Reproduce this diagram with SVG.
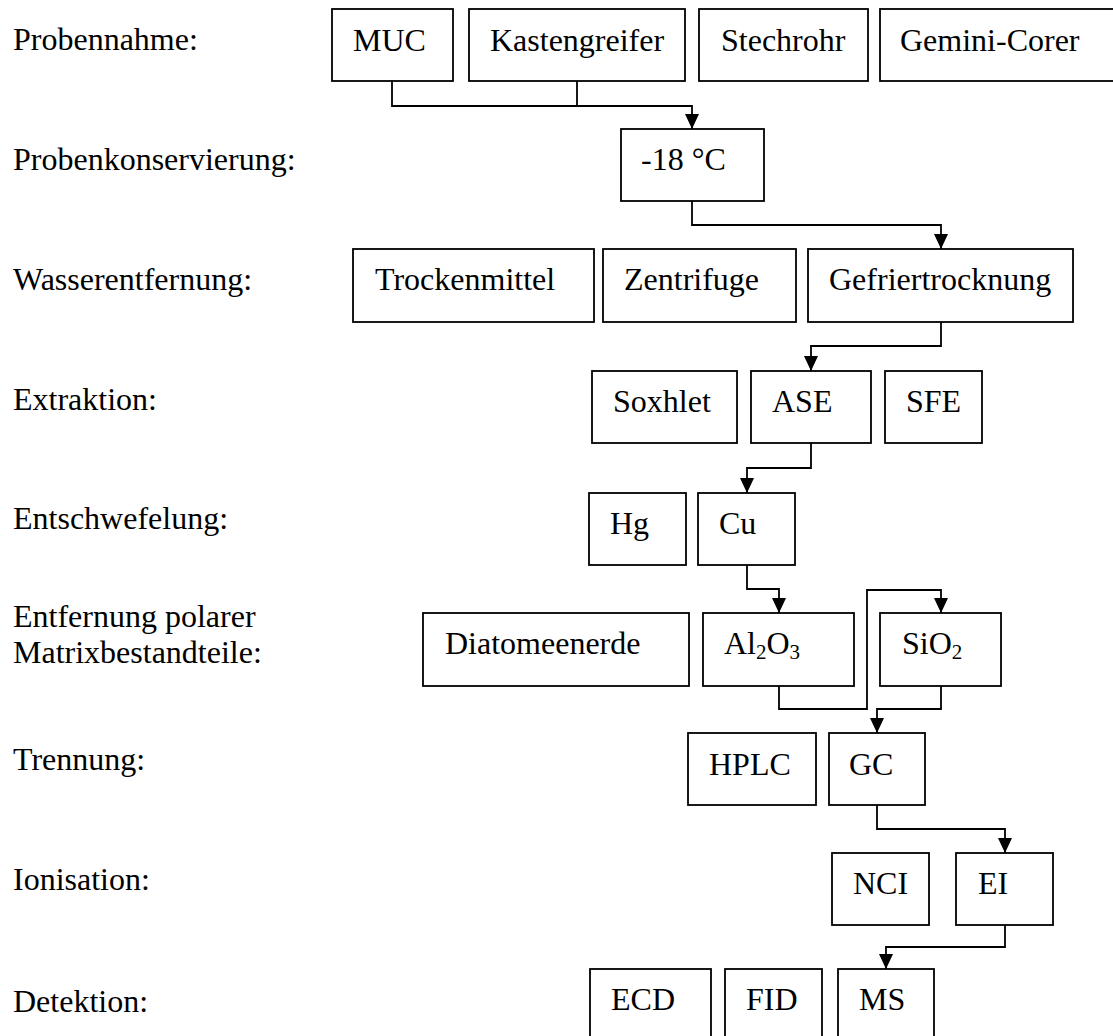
<svg xmlns="http://www.w3.org/2000/svg" width="1113" height="1036" viewBox="0 0 1113 1036">
<style>
  text { font-family: "Liberation Serif", "Times New Roman", serif; font-size: 32px; fill: #000; }
  .box { fill: #fff; stroke: #000; stroke-width: 1.8; }
  .conn { fill: none; stroke: #000; stroke-width: 1.8; }
  .sub { font-size: 21px; }
</style>
<defs>
  <marker id="arrow" markerUnits="userSpaceOnUse" viewBox="0 0 15 14" refX="15" refY="7" markerWidth="15" markerHeight="14" orient="auto">
    <path d="M0,0 L15,7 L0,14 z" fill="#000"/>
  </marker>
</defs>
<rect x="0" y="0" width="1113" height="1036" fill="#fff"/>

<g id="row-labels">
  <text x="13" y="50">Probennahme:</text>
  <text x="13" y="170">Probenkonservierung:</text>
  <text x="13" y="290">Wasserentfernung:</text>
  <text x="13" y="410">Extraktion:</text>
  <text x="13" y="529">Entschwefelung:</text>
  <text x="13" y="627">Entfernung polarer</text>
  <text x="13" y="663">Matrixbestandteile:</text>
  <text x="13" y="770">Trennung:</text>
  <text x="13" y="890">Ionisation:</text>
  <text x="13" y="1012">Detektion:</text>
</g>

<g id="connectors">
  <path class="conn" d="M392,81 V106 H692 V129" marker-end="url(#arrow)"/>
  <path class="conn" d="M577,81 V106"/>
  <path class="conn" d="M692,201 V225 H941 V249" marker-end="url(#arrow)"/>
  <path class="conn" d="M941,322 V346 H811 V371" marker-end="url(#arrow)"/>
  <path class="conn" d="M811,443 V468 H747 V493" marker-end="url(#arrow)"/>
  <path class="conn" d="M747,565 V589 H779 V613" marker-end="url(#arrow)"/>
  <path class="conn" d="M779,686 V709 H867 V590 H941 V613" marker-end="url(#arrow)"/>
  <path class="conn" d="M941,686 V709 H877 V733" marker-end="url(#arrow)"/>
  <path class="conn" d="M877,805 V829 H1005 V853" marker-end="url(#arrow)"/>
  <path class="conn" d="M1005,925 V947 H886 V969" marker-end="url(#arrow)"/>
</g>

<g id="muc"><rect class="box" x="332" y="9" width="121" height="72"/><text x="353" y="51">MUC</text></g>
<g id="kastengreifer"><rect class="box" x="469" y="9" width="216" height="72"/><text x="490" y="51">Kastengreifer</text></g>
<g id="stechrohr"><rect class="box" x="699" y="9" width="169" height="72"/><text x="721" y="51">Stechrohr</text></g>
<g id="gemini-corer"><rect class="box" x="880" y="9" width="234" height="72"/><text x="900" y="51">Gemini-Corer</text></g>

<g id="minus18"><rect class="box" x="621" y="129" width="143" height="72"/><text x="641" y="170">-18 °C</text></g>

<g id="trockenmittel"><rect class="box" x="353" y="249" width="241" height="73"/><text x="375" y="290">Trockenmittel</text></g>
<g id="zentrifuge"><rect class="box" x="603" y="249" width="193" height="73"/><text x="624" y="290">Zentrifuge</text></g>
<g id="gefriertrocknung"><rect class="box" x="808" y="249" width="265" height="73"/><text x="829" y="290">Gefriertrocknung</text></g>

<g id="soxhlet"><rect class="box" x="592" y="371" width="145" height="72"/><text x="613" y="412">Soxhlet</text></g>
<g id="ase"><rect class="box" x="751" y="371" width="120" height="72"/><text x="772" y="412">ASE</text></g>
<g id="sfe"><rect class="box" x="885" y="371" width="97" height="72"/><text x="906" y="412">SFE</text></g>

<g id="hg"><rect class="box" x="589" y="493" width="97" height="72"/><text x="610" y="534">Hg</text></g>
<g id="cu"><rect class="box" x="698" y="493" width="97" height="72"/><text x="719" y="534">Cu</text></g>

<g id="diatomeenerde"><rect class="box" x="423" y="613" width="266" height="73"/><text x="445" y="654">Diatomeenerde</text></g>
<g id="al2o3"><rect class="box" x="703" y="613" width="151" height="73"/><text x="724" y="654">Al<tspan class="sub" dy="5">2</tspan><tspan dy="-5">O</tspan><tspan class="sub" dy="5">3</tspan></text></g>
<g id="sio2"><rect class="box" x="880" y="613" width="121" height="73"/><text x="902" y="654">SiO<tspan class="sub" dy="5">2</tspan></text></g>

<g id="hplc"><rect class="box" x="688" y="733" width="128" height="72"/><text x="709" y="775">HPLC</text></g>
<g id="gc"><rect class="box" x="829" y="733" width="96" height="72"/><text x="849" y="775">GC</text></g>

<g id="nci"><rect class="box" x="832" y="853" width="97" height="72"/><text x="853" y="894">NCI</text></g>
<g id="ei"><rect class="box" x="956" y="853" width="97" height="72"/><text x="978" y="894">EI</text></g>

<g id="ecd"><rect class="box" x="590" y="969" width="121" height="72"/><text x="611" y="1010">ECD</text></g>
<g id="fid"><rect class="box" x="725" y="969" width="97" height="72"/><text x="746" y="1010">FID</text></g>
<g id="ms"><rect class="box" x="838" y="969" width="96" height="72"/><text x="859" y="1010">MS</text></g>
</svg>
